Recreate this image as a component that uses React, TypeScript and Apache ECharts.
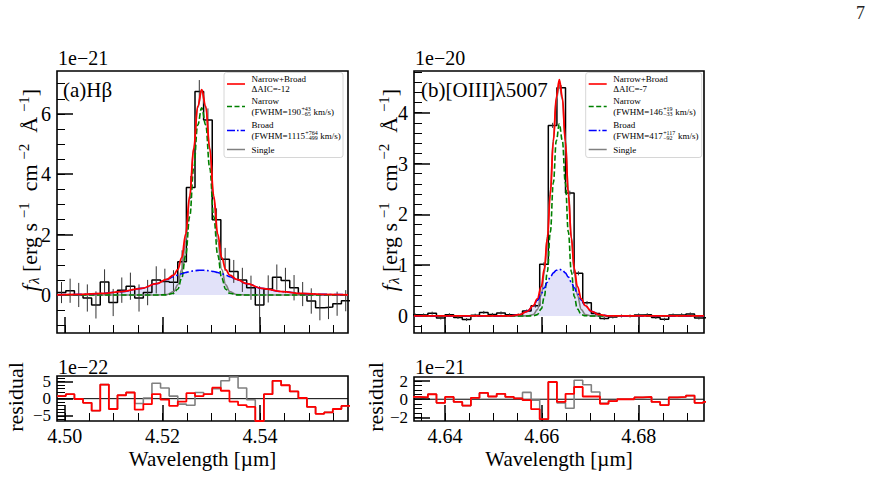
import React, { useEffect, useRef } from "react";
import * as echarts from "echarts";

const FONT = "'Liberation Serif', 'Times New Roman', Times, serif";

// ---------------- (a) Hβ ----------------
// uniform spectral binning (µm)
const hbEdge0 = 4.49844;
const hbBinWidth = 0.001764;
// binned flux, units of 1e-21 erg s^-1 cm^-2 Å^-1
const hbFlux = [
  0.08, 0.14, 0.0, -0.1, -0.33, 0.43, -0.25, 0.16, 0.29, -0.1, 0.08, 0.5, 0.45, 0.42, 1.1, 3.56, 6.74,
  5.8, 2.49, 1.18, 0.78, 0.5, 0.24, -0.33, 0.2, 0.59, 0.48, 0.24, 0.03, -0.2, -0.42, -0.4, -0.29, -0.19,
];
const hbFluxErr = [
  0.35, 0.4, 0.4, 0.45, 0.45, 0.42, 0.45, 0.42, 0.45, 0.45, 0.42, 0.45, 0.42, 0.4, 0.38, 0.38, 0.38,
  0.38, 0.38, 0.38, 0.38, 0.4, 0.4, 0.62, 0.45, 0.42, 0.42, 0.42, 0.4, 0.42, 0.42, 0.4, 0.4, 0.35,
];
// residuals, units of 1e-22
const hbResidNarrowBroad = [
  0.75, 1.3, -0.1, -1.2, -3.5, 4.1, -3.0, 1.0, 1.8, -3.2, -1.6, 1.3, -0.3, -2.1, -0.85, 1.6, 0.75,
  1.3, 3.2, 2.3, -0.85, -1.9, -2.4, -6.5, 1.3, 5.2, 3.9, 2.1, 0.2, -2.4, -4.4, -4.0, -3.0, -2.1,
];
const hbResidSingle = [
  0.75, 1.3, -0.1, -1.2, -3.5, 4.1, -3.0, 1.0, 1.8, -1.4, 0.2, 4.5, 3.1, 0.75, -1.6, -1.9, 1.8,
  1.3, 2.9, 5.2, 6.3, 3.1, -0.3, -6.5, 1.3, 5.2, 3.9, 2.1, 0.2, -2.4, -4.4, -4.0, -3.0, -2.1,
];
// fitted profiles
const hbModelWave = [
  4.4984, 4.50342, 4.50753, 4.51163, 4.51573, 4.51881, 4.52086, 4.5223, 4.52312, 4.52394, 4.52476,
  4.52558, 4.5264, 4.52722, 4.52804, 4.52886, 4.52968, 4.5305, 4.53132, 4.53214, 4.53296, 4.53378,
  4.53522, 4.53727, 4.54035, 4.54445, 4.54855, 4.55266, 4.558,
];
const hbNarrowBroad = [
  0.006, 0.02, 0.05, 0.11, 0.22, 0.375, 0.515, 0.659, 0.84, 1.237, 2.016, 3.284, 4.86, 6.245, 6.8,
  6.245, 4.86, 3.284, 2.016, 1.237, 0.84, 0.659, 0.515, 0.375, 0.22, 0.11, 0.05, 0.02, 0.006,
];
const hbNarrow = [
  0, 0, 0, 0, 0, 0, 0.004, 0.055, 0.19, 0.554, 1.32, 2.6, 4.21, 5.63, 6.2, 5.63, 4.21, 2.6, 1.32,
  0.554, 0.19, 0.055, 0.004, 0, 0, 0, 0, 0, 0,
];
const hbBroad = [
  0.006, 0.02, 0.05, 0.11, 0.22, 0.375, 0.511, 0.606, 0.657, 0.703, 0.743, 0.776, 0.8, 0.815, 0.82,
  0.815, 0.8, 0.776, 0.743, 0.703, 0.657, 0.606, 0.511, 0.375, 0.22, 0.11, 0.05, 0.02, 0.006,
];
const hbSingle = [
  0, 0, 0, 0, 0, 0, 0.011, 0.114, 0.336, 0.84, 1.78, 3.19, 4.84, 6.21, 6.75, 6.21, 4.84, 3.19, 1.78,
  0.84, 0.336, 0.114, 0.011, 0, 0, 0, 0, 0, 0,
];

// ---------------- (b) [OIII]λ5007 ----------------
const oiiiEdge0 = 4.63291;
const oiiiBinWidth = 0.001777;
// binned flux, units of 1e-20 erg s^-1 cm^-2 Å^-1
const oiiiFlux = [
  0.025, 0.02, 0.055, -0.04, 0.025, -0.03, -0.07, 0.015, 0.07, 0.03, 0.06, 0.025, 0.02, 0.1, 0.2,
  1.02, 3.75, 4.49, 2.42, 0.84, 0.26, 0.05, -0.05, -0.02, 0.0, 0.0, 0.02, 0.025, -0.03, -0.065, 0.02,
  0.025, 0.04, -0.04, -0.03,
];
const oiiiFluxErr = [
  0.03, 0.03, 0.03, 0.03, 0.03, 0.03, 0.03, 0.03, 0.03, 0.03, 0.03, 0.03, 0.03, 0.03, 0.035, 0.04,
  0.05, 0.05, 0.045, 0.04, 0.035, 0.03, 0.03, 0.03, 0.03, 0.03, 0.03, 0.03, 0.03, 0.03, 0.03, 0.03,
  0.03, 0.03, 0.03,
];
// residuals, units of 1e-21
const oiiiResidNarrowBroad = [
  0.25, 0.2, 0.55, -0.4, 0.25, -0.3, -0.7, 0.15, 0.7, 0.3, 0.6, 0.25, 0.1, -0.1, -1.1, -2.2, 1.9,
  -0.3, 0.6, 1.35, 0.3, 0.3, -0.5, -0.2, 0.0, 0.0, 0.2, 0.25, -0.3, -0.65, 0.2, 0.25, 0.4, -0.4, -0.3,
];
const oiiiResidSingle = [
  0.25, 0.2, 0.55, -0.4, 0.25, -0.3, -0.7, 0.15, 0.7, 0.3, 0.6, 0.25, 0.1, 0.75, -0.1, -2.2, 1.9,
  -0.4, -1.0, 2.1, 1.6, 0.8, -0.45, -0.2, 0.0, 0.0, 0.2, 0.25, -0.3, -0.65, 0.2, 0.25, 0.4, -0.4, -0.3,
];
const oiiiModelWave = [
  4.6336, 4.64296, 4.64916, 4.65329, 4.65536, 4.65701, 4.65825, 4.65907, 4.6599, 4.66052, 4.66114,
  4.66176, 4.66238, 4.663, 4.66362, 4.66424, 4.66486, 4.66548, 4.6661, 4.66672, 4.66734, 4.66817,
  4.66899, 4.67023, 4.67188, 4.67395, 4.67808, 4.68428, 4.6935,
];
const oiiiNarrowBroad = [
  0, 0, 0, 0.003, 0.025, 0.092, 0.205, 0.336, 0.58, 0.93, 1.524, 2.394, 3.433, 4.306, 4.65, 4.306,
  3.433, 2.394, 1.524, 0.93, 0.58, 0.336, 0.205, 0.092, 0.025, 0.003, 0, 0, 0,
];
const oiiiNarrow = [
  0, 0, 0, 0, 0, 0, 0.004, 0.027, 0.139, 0.381, 0.87, 1.65, 2.62, 3.45, 3.78, 3.45, 2.62, 1.65, 0.87,
  0.381, 0.139, 0.027, 0.004, 0, 0, 0, 0, 0, 0,
];
const oiiiBroad = [
  0, 0, 0, 0.003, 0.025, 0.092, 0.201, 0.309, 0.443, 0.554, 0.665, 0.766, 0.848, 0.901, 0.92, 0.901,
  0.848, 0.766, 0.665, 0.554, 0.443, 0.309, 0.201, 0.092, 0.025, 0.003, 0, 0, 0,
];
const oiiiSingle = [
  0, 0, 0, 0, 0, 0.002, 0.03, 0.124, 0.409, 0.854, 1.56, 2.49, 3.48, 4.26, 4.55, 4.26, 3.48, 2.49,
  1.56, 0.854, 0.409, 0.124, 0.03, 0.002, 0, 0, 0, 0, 0,
];

// axis tick labels
const hbWaveTicks = [4.5, 4.52, 4.54];
const oiiiWaveTicks = [4.64, 4.66, 4.68];
const hbFluxTicks = [0, 2, 4, 6];
const oiiiFluxTicks = [0, 1, 2, 3, 4];
const hbResidTicks = [-5, 0, 5];
const oiiiResidTicks = [-2, 0, 2];

// legend texts
const hbLegend = {
  aic: "ΔAIC=-12",
  narrow: ["(FWHM=190", "+43", "−65", " km/s)"],
  broad: ["(FWHM=1115", "+764", "−499", " km/s)"],
};
const oiiiLegend = {
  aic: "ΔAIC=-7",
  narrow: ["(FWHM=146", "+19", "−33", " km/s)"],
  broad: ["(FWHM=417", "+117", "−92", " km/s)"],
};

const C_RED = "#ff0000";
const C_GREEN = "#008000";
const C_BLUE = "#0000ff";
const C_GRAY = "#808080";
const C_FILL = "#e2e2f9";

const range = (a: number, b: number, s: number) => {
  const out: number[] = [];
  for (let v = a; v <= b + 1e-9; v += s) out.push(+v.toFixed(4));
  return out;
};
const pairs = (xs: number[], ys: number[]) => xs.map((x, i) => [x, ys[i]]);
const steps = (e0: number, w: number, vals: number[]) => {
  const pts = vals.map((v, i) => [e0 + i * w, v]);
  pts.push([e0 + vals.length * w, vals[vals.length - 1]]);
  return pts;
};
const errBars = (e0: number, w: number, vals: number[], errs: number[]) =>
  vals.map((v, i) => [e0 + (i + 0.5) * w, v - errs[i], v + errs[i]]);
const fmtSigned = (v: number) => (v < 0 ? "\u2212" + Math.abs(v) : String(v));

// One axis carrying the long major ticks (and labels), one carrying the short minor ticks.
// Labels that sit close together on a short axis are split onto an extra tick-less axis
// so that ECharts' overlap handling keeps every one of them.
function axisSet(
  kind: "x" | "y",
  gridIndex: number,
  min: number,
  max: number,
  majors: number[],
  minors: number[],
  labelGroups: number[][],
  fmt: (v: number) => string,
  labelSize = 20
) {
  const base = {
    type: "value",
    gridIndex,
    min,
    max,
    position: kind === "x" ? "bottom" : "left",
    axisLine: { show: false, onZero: false },
    splitLine: { show: false },
    axisPointer: { show: false },
  };
  const label = (values: number[]) => ({
    show: values.length > 0,
    customValues: values,
    formatter: fmt,
    color: "#000",
    fontFamily: FONT,
    fontSize: labelSize,
    margin: kind === "x" ? 5 : 6,
    hideOverlap: false,
  });
  const axes: any[] = [
    {
      ...base,
      axisTick: { show: true, inside: true, length: 16, lineStyle: { color: "#000", width: 1.5 }, customValues: majors },
      axisLabel: label(labelGroups[0] || []),
    },
    {
      ...base,
      axisTick: { show: true, inside: true, length: 8, lineStyle: { color: "#000", width: 1 }, customValues: minors },
      axisLabel: { show: false },
    },
  ];
  for (let i = 1; i < labelGroups.length; i++) {
    axes.push({ ...base, axisTick: { show: false }, axisLabel: label(labelGroups[i]) });
  }
  return axes;
}

const lineSeries = (xi: number, yi: number, data: number[][], color: string, width: number, type: any, z: number) => ({
  type: "line",
  xAxisIndex: xi,
  yAxisIndex: yi,
  data,
  symbol: "none",
  smooth: 0.4,
  smoothMonotone: "x",
  lineStyle: { color, width, type },
  z,
  silent: true,
});

const stepSeries = (xi: number, yi: number, data: number[][], color: string, width: number, z: number) => ({
  type: "line",
  xAxisIndex: xi,
  yAxisIndex: yi,
  data,
  step: "end",
  symbol: "none",
  lineStyle: { color, width },
  z,
  silent: true,
});

const errSeries = (xi: number, yi: number, data: number[][]) => ({
  type: "custom",
  xAxisIndex: xi,
  yAxisIndex: yi,
  data,
  clip: true,
  z: 3,
  silent: true,
  renderItem: (_p: any, api: any) => {
    const x = api.value(0);
    const a = api.coord([x, api.value(1)]);
    const b = api.coord([x, api.value(2)]);
    return {
      type: "line",
      shape: { x1: a[0], y1: a[1], x2: b[0], y2: b[1] },
      style: { stroke: "#333", lineWidth: 1 },
    };
  },
});

function panelSeries(
  xi: number,
  yi: number,
  e0: number,
  w: number,
  flux: number[],
  err: number[],
  wave: number[],
  nb: number[],
  n: number[],
  b: number[],
  s: number[]
) {
  return [
    {
      type: "line",
      xAxisIndex: xi,
      yAxisIndex: yi,
      data: pairs(wave, b),
      symbol: "none",
      smooth: 0.4,
      smoothMonotone: "x",
      lineStyle: { width: 0, opacity: 0 },
      areaStyle: { color: C_FILL, opacity: 1 },
      z: 1,
      silent: true,
    },
    stepSeries(xi, yi, steps(e0, w, flux), "#000", 1.5, 2),
    errSeries(xi, yi, errBars(e0, w, flux, err)),
    lineSeries(xi, yi, pairs(wave, s), C_GRAY, 1.6, "solid", 4),
    lineSeries(xi, yi, pairs(wave, n), C_GREEN, 1.6, [5.5, 2.5], 5),
    lineSeries(xi, yi, pairs(wave, b), C_BLUE, 1.6, [9, 2.5, 1.8, 2.5], 6),
    lineSeries(xi, yi, pairs(wave, nb), C_RED, 1.8, "solid", 7),
  ];
}

function residSeries(xi: number, yi: number, e0: number, w: number, xmin: number, xmax: number, rnb: number[], rs: number[]) {
  return [
    {
      type: "line",
      xAxisIndex: xi,
      yAxisIndex: yi,
      data: [
        [xmin, 0],
        [xmax, 0],
      ],
      symbol: "none",
      lineStyle: { color: "#000", width: 1 },
      z: 2,
      silent: true,
    },
    stepSeries(xi, yi, steps(e0, w, rs), C_GRAY, 1.6, 3),
    stepSeries(xi, yi, steps(e0, w, rnb), C_RED, 1.8, 4),
  ];
}

let measureCtx: CanvasRenderingContext2D | null = null;
function textWidth(t: string, size: number) {
  if (!measureCtx) measureCtx = document.createElement("canvas").getContext("2d");
  measureCtx!.font = `${size}px 'Liberation Serif'`;
  return measureCtx!.measureText(t).width;
}

function txt(x: number, y: number, text: string, size: number, extra: any = {}) {
  return {
    type: "text",
    x,
    y,
    silent: true,
    style: {
      text,
      fill: "#000",
      fontFamily: FONT,
      fontSize: size,
      align: "left",
      verticalAlign: "middle",
      ...extra,
    },
  };
}

function scriptLine(x: number, y: number, parts: string[]) {
  const [head, sup, sub, tail] = parts;
  const fs = 9;
  const ss = 6;
  const w1 = textWidth(head, fs);
  const w2 = Math.max(textWidth(sup, ss), textWidth(sub, ss));
  return [
    txt(x, y, head, fs),
    txt(x + w1 + 0.4, y - 3, sup, ss),
    txt(x + w1 + 0.4, y + 2.6, sub, ss),
    txt(x + w1 + w2 + 0.8, y, tail, fs),
  ];
}

function legendBox(bx: number, by: number, bw: number, bh: number, lg: typeof hbLegend) {
  const lx1 = bx + 3;
  const lx2 = bx + 21;
  const tx = bx + 27.5;
  const seg = (y: number, color: string, dash: any, width: number) => ({
    type: "line",
    silent: true,
    shape: { x1: lx1, y1: y, x2: lx2, y2: y },
    style: { stroke: color, lineWidth: width, lineDash: dash },
  });
  return [
    {
      type: "rect",
      silent: true,
      shape: { x: bx, y: by, width: bw, height: bh, r: 2.5 },
      style: { fill: "rgba(255,255,255,0.85)", stroke: "#cccccc", lineWidth: 0.8 },
      z: 50,
    },
    ...[
      seg(by + 11.5, C_RED, null, 1.6),
      txt(tx, by + 6.5, "Narrow+Broad", 9),
      txt(tx, by + 16, lg.aic, 9),
      seg(by + 34, C_GREEN, [5, 2.5], 1.5),
      txt(tx, by + 28, "Narrow", 9),
      ...scriptLine(tx, by + 39, lg.narrow),
      seg(by + 58, C_BLUE, [8, 2, 1.6, 2], 1.5),
      txt(tx, by + 52.5, "Broad", 9),
      ...scriptLine(tx, by + 63, lg.broad),
      seg(by + 77, C_GRAY, null, 1.5),
      txt(tx, by + 77, "Single", 9),
    ].map((e: any) => ({ ...e, z: 51 })),
  ];
}

const yTitleRich = {
  f: { fontFamily: FONT, fontSize: 22, fontStyle: "italic", fill: "#000" },
  sub: { fontFamily: FONT, fontSize: 15, fontStyle: "italic", fill: "#000", padding: [10, 0, 0, 1] },
  n: { fontFamily: FONT, fontSize: 22, fill: "#000" },
  sup: { fontFamily: FONT, fontSize: 15, fill: "#000", padding: [0, 0, 11, 1] },
};
const yTitle = (x: number, y: number) => ({
  type: "text",
  x,
  y,
  rotation: Math.PI / 2,
  silent: true,
  style: {
    text: "{f|f}{sub|λ}{n| [erg s}{sup| −1}{n|  cm}{sup| −2}{n|  Å}{sup| −1}{n|]}",
    rich: yTitleRich,
    fontFamily: FONT,
    fontSize: 22,
    align: "center",
    verticalAlign: "middle",
    fill: "#000",
  },
});

function buildOption() {
  const aX = [4.4984, 4.558];
  const bX = [4.6336, 4.6935];
  const xLabel = (v: number) => v.toFixed(2);

  // x axes: 0-1 (a) spectrum, 2-3 (a) residual, 4-5 (b) spectrum, 6-7 (b) residual
  const xAxes = [
    ...axisSet("x", 0, aX[0], aX[1], hbWaveTicks, range(4.5, 4.555, 0.005), [], xLabel),
    ...axisSet("x", 1, aX[0], aX[1], hbWaveTicks, range(4.5, 4.555, 0.005), [hbWaveTicks], xLabel),
    ...axisSet("x", 2, bX[0], bX[1], oiiiWaveTicks, range(4.635, 4.69, 0.005), [], xLabel),
    ...axisSet("x", 3, bX[0], bX[1], oiiiWaveTicks, range(4.635, 4.69, 0.005), [oiiiWaveTicks], xLabel),
  ];
  // y axes: 0-1 (a) spectrum, 2-4 (a) residual, 5-6 (b) spectrum, 7-9 (b) residual
  const yAxes = [
    ...axisSet("y", 0, -1.26, 7.42, hbFluxTicks, range(-1, 7, 0.5), [hbFluxTicks], fmtSigned),
    ...axisSet("y", 1, -6.5, 6.6, hbResidTicks, range(-6, 6, 1), [[0], [hbResidTicks[0], hbResidTicks[2]]], fmtSigned, 17),
    ...axisSet("y", 2, -0.335, 4.82, oiiiFluxTicks, range(-0.2, 4.8, 0.2), [oiiiFluxTicks], fmtSigned),
    ...axisSet("y", 3, -2.4, 2.45, oiiiResidTicks, range(-2, 2, 0.5), [[0], [oiiiResidTicks[0], oiiiResidTicks[2]]], fmtSigned, 17),
  ];

  const gridStyle = { show: true, borderColor: "#000", borderWidth: 1.6, backgroundColor: "transparent", containLabel: false };
  const grids = [
    { ...gridStyle, left: 57, top: 71, width: 291, height: 262 },
    { ...gridStyle, left: 57, top: 376, width: 291, height: 45 },
    { ...gridStyle, left: 414, top: 71, width: 290, height: 262 },
    { ...gridStyle, left: 414, top: 377, width: 290, height: 44 },
  ];

  const series = [
    ...panelSeries(0, 0, hbEdge0, hbBinWidth, hbFlux, hbFluxErr, hbModelWave, hbNarrowBroad, hbNarrow, hbBroad, hbSingle),
    ...residSeries(2, 2, hbEdge0, hbBinWidth, aX[0], aX[1], hbResidNarrowBroad, hbResidSingle),
    ...panelSeries(4, 5, oiiiEdge0, oiiiBinWidth, oiiiFlux, oiiiFluxErr, oiiiModelWave, oiiiNarrowBroad, oiiiNarrow, oiiiBroad, oiiiSingle),
    ...residSeries(6, 7, oiiiEdge0, oiiiBinWidth, bX[0], bX[1], oiiiResidNarrowBroad, oiiiResidSingle),
  ];

  const graphic = [
    txt(856, 13, "7", 18, { fill: "#222" }),
    txt(63, 90, "(a)Hβ", 21),
    txt(421, 90, "(b)[OIII]λ5007", 21),
    txt(58, 58, "1e\u221221", 20),
    txt(415, 58, "1e\u221220", 20),
    txt(58, 367, "1e\u221222", 20),
    txt(415, 367, "1e\u221221", 20),
    yTitle(29, 190),
    yTitle(389, 190),
    { ...txt(15, 397, "residual", 22, { align: "center" }), rotation: Math.PI / 2 },
    { ...txt(375, 397, "residual", 22, { align: "center" }), rotation: Math.PI / 2 },
    txt(202.5, 459, "Wavelength [\u00b5m]", 21, { align: "center" }),
    txt(559, 459, "Wavelength [\u00b5m]", 21, { align: "center" }),
    ...legendBox(224, 72.5, 119, 85, hbLegend),
    ...legendBox(585.7, 72.5, 116, 85, oiiiLegend),
  ];

  return {
    animation: false,
    backgroundColor: "#fff",
    grid: grids,
    xAxis: xAxes,
    yAxis: yAxes,
    series,
    graphic,
  };
}

export default function App() {
  const ref = useRef<HTMLDivElement>(null);
  useEffect(() => {
    if (!ref.current) return;
    const chart = echarts.init(ref.current, null, { renderer: "svg" });
    chart.setOption(buildOption() as any);
    return () => chart.dispose();
  }, []);
  return <div ref={ref} style={{ position: "fixed", left: 0, top: 0, width: 873, height: 496 }} />;
}
